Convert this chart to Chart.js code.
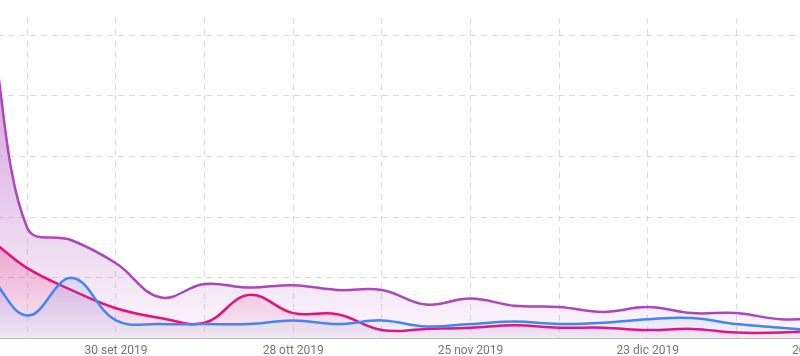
<!DOCTYPE html>
<html lang="it">
<head>
<meta charset="utf-8">
<script src="https://cdn.jsdelivr.net/npm/chart.js@4/dist/chart.umd.min.js"></script>
<style>
  html, body { margin: 0; padding: 0; background: #fff; overflow: hidden; width: 800px; height: 356px; }
  /* il grafico originale è ritagliato a sinistra e a destra */
  #wrap { position: absolute; left: -36px; top: 0; width: 937px; height: 363px; }
</style>
</head>
<body>
<div id="wrap"><canvas id="grafico"></canvas></div>
<script>
/* Dati (giorni dal 30 set 2019, cadenza settimanale) */
const giorni = [-28, -21, -14, -7, 0, 7, 14, 21, 28, 35, 42, 49, 56, 63, 70, 77, 84, 91, 98, 105, 112];
const serieViola = [160, 258, 91, 81, 62, 34, 45, 42, 44, 40, 40, 28, 33, 27, 26, 22, 26, 21, 21, 16, 17];
const serieRosa  = [100, 85, 58, 40, 25, 17, 13, 36, 21, 20, 7, 8, 9, 11, 9, 9, 7, 8, 5, 5, 7];
const serieBlu   = [60, 55, 19, 50, 15, 12, 12, 12, 15, 12, 15, 10, 12, 14, 12, 13, 16, 17, 12, 9, 6];

/* Tacche asse x: griglia ogni 14 giorni, etichetta ogni 28 */
const tacche = [-14, 0, 14, 28, 42, 56, 70, 84, 98, 112];
const etichette = ['', '30 set 2019', '', '28 ott 2019', '', '25 nov 2019', '', '23 dic 2019', '', '20 gen 2020'];
const taccheY = [0, 50, 100, 150, 200, 250];

function punti(valori) {
    return giorni.map((g, i) => ({ x: g, y: valori[i] }));
}

// riempimento sfumato dall'alto verso il basso
function sfumatura(rgb, a0, a1) {
    return function(context) {
        const { ctx, chartArea } = context.chart;
        if (!chartArea) return 'rgba(' + rgb + ',' + a1 + ')';
        const g = ctx.createLinearGradient(0, chartArea.top, 0, chartArea.bottom);
        g.addColorStop(0, 'rgba(' + rgb + ',' + a0 + ')');
        g.addColorStop(1, 'rgba(' + rgb + ',' + a1 + ')');
        return g;
    };
}

const griglia = { color: '#dcdcdc', lineWidth: 1, drawTicks: false };

new Chart(document.getElementById('grafico'), {
    type: 'line',
    data: {
        datasets: [{
            label: 'Blu',
            data: punti(serieBlu),
            borderColor: '#4285f4',
            backgroundColor: sfumatura('66,133,244', 0.6, 0.05),
            borderWidth: 2.5,
            pointRadius: 0,
            fill: 'origin',
            tension: 0.4
        }, {
            label: 'Rosa',
            data: punti(serieRosa),
            borderColor: '#e8107a',
            backgroundColor: sfumatura('233,30,120', 0.8, 0.05),
            borderWidth: 2.5,
            pointRadius: 0,
            fill: 'origin',
            tension: 0.4
        }, {
            label: 'Viola',
            data: punti(serieViola),
            borderColor: '#ab47bc',
            backgroundColor: sfumatura('171,71,188', 0.6, 0.04),
            borderWidth: 2.5,
            pointRadius: 0,
            fill: 'origin',
            tension: 0.4
        }]
    },
    options: {
        responsive: true,
        maintainAspectRatio: false,
        animation: false,
        layout: { padding: { top: 18, left: 0, right: 0, bottom: 0 } },
        plugins: {
            legend: { display: false },
            tooltip: { enabled: false }
        },
        scales: {
            x: {
                type: 'linear',
                min: -24,
                max: 124,
                afterBuildTicks: (asse) => { asse.ticks = tacche.map(v => ({ value: v })); },
                ticks: {
                    autoSkip: false,
                    maxRotation: 0,
                    padding: 5,
                    color: '#757575',
                    font: { family: 'Roboto', size: 12 },
                    callback: (valore) => etichette[tacche.indexOf(valore)] || ''
                },
                grid: griglia,
                border: { display: true, color: '#bdbdbd', width: 1, dash: [6, 5] }
            },
            y: {
                min: 0,
                max: 264,
                afterBuildTicks: (asse) => { asse.ticks = taccheY.map(v => ({ value: v })); },
                ticks: { display: false },
                grid: griglia,
                border: { display: false, dash: [6, 5] }
            }
        }
    }
});
</script>
</body>
</html>
